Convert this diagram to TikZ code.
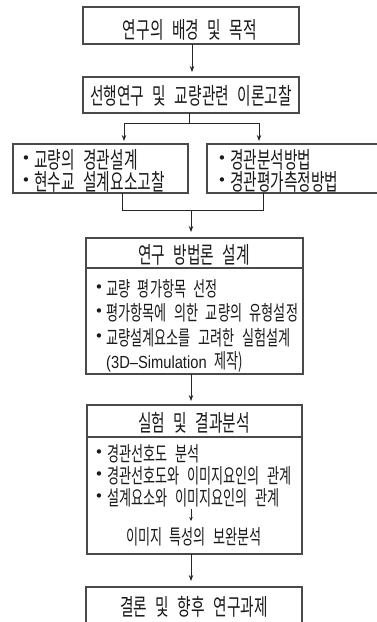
\documentclass[tikz,border=0pt]{standalone}
\usepackage{fontspec}
\usetikzlibrary{arrows.meta}
\newfontfamily\kr[FakeStretch=0.64,WordSpace=2.6]{Noto Sans CJK KR}
\newfontfamily\latn[FakeStretch=0.84]{Liberation Sans}
\newfontfamily\bulfont{DejaVu Sans}
\definecolor{boxline}{HTML}{4A4A4A}
\definecolor{txt}{HTML}{1A1A1A}
\tikzset{
  frame/.style={draw=boxline, line width=1.1pt},
  conn/.style={draw=black!85, line width=0.8pt},
  arr/.style={conn, -{Stealth[length=6pt,width=4.5pt]}},
  smallarr/.style={conn, line width=0.6pt, -{Stealth[length=4pt,width=3.5pt]}},
  title/.style={font=\kr\fontsize{23}{25}\selectfont, text=txt, inner sep=0pt, anchor=center},
  itemA/.style={font=\kr\fontsize{23}{25}\selectfont, text=txt, inner sep=0pt, anchor=west},
  itemB/.style={font=\kr\fontsize{20.5}{22}\selectfont, text=txt, inner sep=0pt, anchor=west},
  bul/.style={font=\bulfont\fontsize{15}{17}\selectfont, text=txt, inner sep=0pt, anchor=center},
}
\begin{document}
\begin{tikzpicture}[x=1pt,y=-1pt]
\useasboundingbox (0,0) rectangle (377,622);
% boxes
\draw[frame] (83,7) rectangle (299,44);
\coordinate (b1s) at (192,44);
\node[title] (t1) at (190,30) {연구의 배경 및 목적};

\draw[frame] (83,77) rectangle (299,113);
\node[title] (t2) at (191,96) {선행연구 및 교량관련 이론고찰};
\coordinate (b2s) at (189,113);
\coordinate (split) at (189,123);
\coordinate (sl) at (124,123);
\coordinate (sr) at (259,123);

\draw[frame] (13,144) rectangle (188,193);
\draw[frame] (207,144) rectangle (390,193);
\node[bul] (bl1) at (26,160) {•};
\node[itemA] (l31) at (34,160) {교량의 경관설계};
\node[bul] (bl2) at (26,182) {•};
\node[itemA] (l32) at (34,182) {현수교 설계요소고찰};
\node[bul] (br1) at (222,160) {•};
\node[itemA] (r31) at (230,160) {경관분석방법};
\node[bul] (br2) at (222,182) {•};
\node[itemA] (r32) at (230,182) {경관평가측정방법};

\coordinate (l3s) at (122,193);
\coordinate (r3s) at (263,193);
\coordinate (ml) at (122,210);
\coordinate (mr) at (263,210);
\coordinate (mc) at (191,210);

\draw[frame] (86,238) rectangle (303,374);
\draw[frame] (86,268) -- (303,268);
\node[title] (t4) at (194,255) {연구 방법론 설계};
\node[bul] (b41) at (99,289) {•};
\node[itemB] (i41) at (106,289) {교량 평가항목 선정};
\node[bul] (b42) at (99,313) {•};
\node[itemB] (i42) at (106,313) {평가항목에 의한 교량의 유형설정};
\node[bul] (b43) at (99,338) {•};
\node[itemB] (i43) at (106,338) {교량설계요소를 고려한 실험설계};
\node[itemB] (i44) at (106,362) {{\latn\fontsize{17.5}{20}\selectfont (3D–Simulation}\hspace{8pt}제작)};

\draw[frame] (87,405) rectangle (302,554);
\draw[frame] (87,437) -- (302,437);
\node[title] (t5) at (194,423) {실험 및 결과분석};
\node[bul] (b51) at (99,454) {•};
\node[itemB] (i51) at (107,454) {경관선호도 분석};
\node[bul] (b52) at (99,476) {•};
\node[itemB] (i52) at (107,476) {경관선호도와 이미지요인의 관계};
\node[bul] (b53) at (99,498) {•};
\node[itemB] (i53) at (107,498) {설계요소와 이미지요인의 관계};
\node[itemB, anchor=center] (i54) at (194,537) {이미지 특성의 보완분석};
\coordinate (sa1) at (191,509);
\coordinate (sa2) at (191,521);

\draw[frame] (86,587) rectangle (302,640);
\node[title] (t6) at (194,607) {결론 및 향후 연구과제};

% connectors
\draw[arr] (b1s) -- (192,72);
\draw[conn] (b2s) -- (split);
\draw[conn] (sl) -- (sr);
\draw[arr] (sl) -- (124,141);
\draw[arr] (sr) -- (259,141);
\draw[conn] (l3s) -- (ml) -- (mr) -- (r3s);
\draw[arr] (mc) -- (191,232);
\draw[arr] (191,374) -- (191,401);
\draw[smallarr] (sa1) -- (sa2);
\draw[arr] (191,554) -- (191,581);
\end{tikzpicture}
\end{document}
